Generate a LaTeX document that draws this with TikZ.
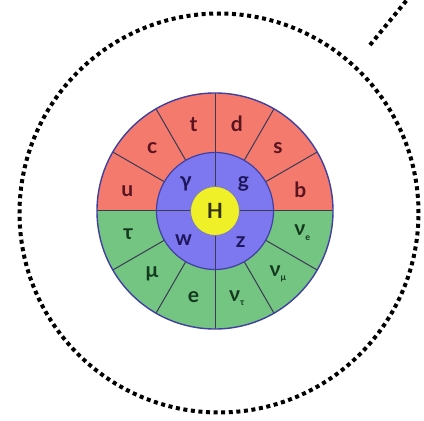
\documentclass[tikz,border=0pt]{standalone}
\usepackage{fontspec}
\setmainfont{Lato}
\begin{document}
\begin{tikzpicture}[x=1pt,y=1pt,
  lab/.style={font=\fontsize{21}{21}\selectfont\bfseries, inner sep=0pt, anchor=center},
  dots/.style={line width=4pt, dash pattern=on 4pt off 3.6pt, black},
  div/.style={line width=1pt, draw=divc}]
\definecolor{qred}{HTML}{F47A6E}
\definecolor{qgreen}{HTML}{74C482}
\definecolor{qblue}{HTML}{7D78F0}
\definecolor{qyellow}{HTML}{F0F028}
\definecolor{tred}{HTML}{5A1420}
\definecolor{tgreen}{HTML}{143A1E}
\definecolor{tblue}{HTML}{1E165A}
\definecolor{tyel}{HTML}{323208}
\definecolor{divc}{HTML}{3A3A55}
\definecolor{rimc}{HTML}{4040A0}
\useasboundingbox (0,0) rectangle (424,421);
\fill[white] (0,0) rectangle (424,421);
% dotted frame circle and pointer line
\coordinate (C) at (219,208);
\coordinate (P1) at (370,376);
\coordinate (P2) at (420,437);
\draw[dots] (C) circle[radius=199.5];
\draw[dots] (P1) -- (P2);
% wheel
\coordinate (W) at (215,210);
\fill[qred] ([xshift=118pt]W) arc[start angle=0,end angle=180,radius=118] -- cycle;
\fill[qgreen] ([xshift=-118pt]W) arc[start angle=180,end angle=360,radius=118] -- cycle;
\fill[qblue] (W) circle[radius=58.5];
\foreach \a in {30,60,120,150,210,240,300,330}
  \draw[div] ([shift={(\a:58.5)}]W) -- ([shift={(\a:118)}]W);
\draw[div] ([xshift=-118pt]W) -- ([xshift=118pt]W);
\draw[div] ([yshift=-118pt]W) -- ([yshift=118pt]W);
\draw[line width=1.2pt, draw=rimc] (W) circle[radius=58.5];
\draw[line width=1.4pt, draw=rimc] (W) circle[radius=118];
\fill[qyellow] (W) circle[radius=24.5];
\draw[line width=0.8pt, draw=rimc!70] (W) circle[radius=24.5];
% labels
\node[lab, text=tyel] (H) at (W) {H};
\node[lab, text=tblue] (gam) at ([shift={(137:40)}]W) {γ};
\node[lab, text=tblue] (glu) at ([shift={(43:39)}]W) {g};
\node[lab, text=tblue] (wb) at ([shift={(223:43)}]W) {w};
\node[lab, text=tblue] (zb) at ([shift={(310:40)}]W) {z};
\node[lab, text=tred] (u) at ([shift={(167:90)}]W) {u};
\node[lab, text=tred] (c) at ([shift={(135:89)}]W) {c};
\node[lab, text=tred] (t) at ([shift={(104:89)}]W) {t};
\node[lab, text=tred] (d) at ([shift={(76:90)}]W) {d};
\node[lab, text=tred] (s) at ([shift={(45:89)}]W) {s};
\node[lab, text=tred] (b) at ([shift={(14:88)}]W) {b};
\node[lab, text=tgreen] (tau) at ([shift={(195:90)}]W) {τ};
\node[lab, text=tgreen] (mu) at ([shift={(225:89)}]W) {μ};
\node[lab, text=tgreen] (e) at ([shift={(256:89)}]W) {e};
\node[lab, text=tgreen] (nt) at ([shift={(284:90)}]W) {ν\raisebox{-0.4ex}{\fontsize{9}{9}\selectfont τ}};
\node[lab, text=tgreen] (nm) at ([shift={(315:89)}]W) {ν\raisebox{-0.4ex}{\fontsize{9}{9}\selectfont μ}};
\node[lab, text=tgreen] (ne) at ([shift={(346:90)}]W) {ν\raisebox{-0.4ex}{\fontsize{9}{9}\selectfont e}};
\end{tikzpicture}
\end{document}
